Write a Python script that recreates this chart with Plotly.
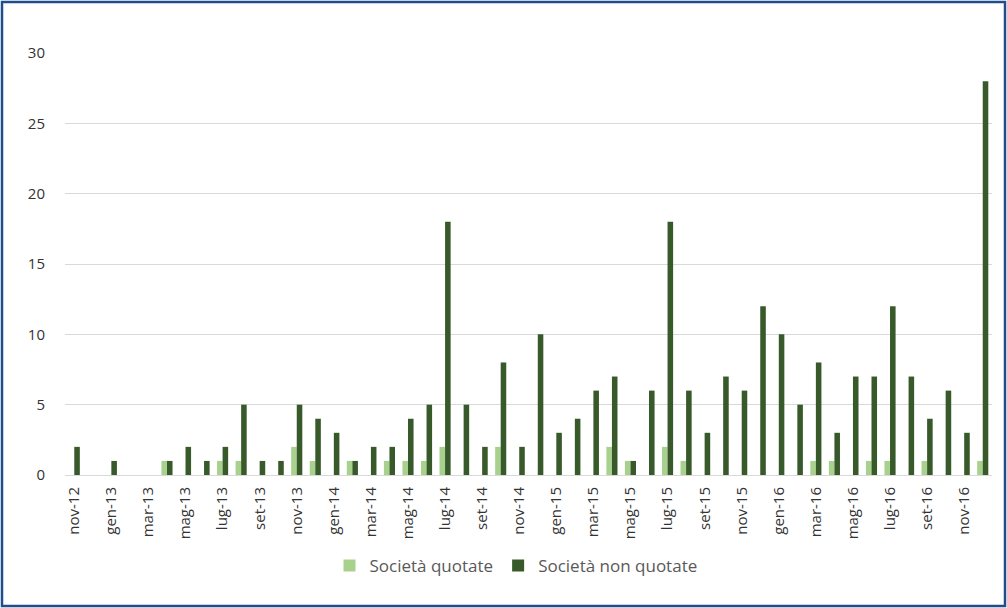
import plotly.graph_objects as go

# Mesi (nov-12 .. dic-16)
mesi = [
    "nov-12", "dic-12",
    "gen-13", "feb-13", "mar-13", "apr-13", "mag-13", "giu-13",
    "lug-13", "ago-13", "set-13", "ott-13", "nov-13", "dic-13",
    "gen-14", "feb-14", "mar-14", "apr-14", "mag-14", "giu-14",
    "lug-14", "ago-14", "set-14", "ott-14", "nov-14", "dic-14",
    "gen-15", "feb-15", "mar-15", "apr-15", "mag-15", "giu-15",
    "lug-15", "ago-15", "set-15", "ott-15", "nov-15", "dic-15",
    "gen-16", "feb-16", "mar-16", "apr-16", "mag-16", "giu-16",
    "lug-16", "ago-16", "set-16", "ott-16", "nov-16", "dic-16",
]

quotate = [
    0, 0,
    0, 0, 0, 1, 0, 0,
    1, 1, 0, 0, 2, 1,
    0, 1, 0, 1, 1, 1,
    2, 0, 0, 2, 0, 0,
    0, 0, 0, 2, 1, 0,
    2, 1, 0, 0, 0, 0,
    0, 0, 1, 1, 0, 1,
    1, 0, 1, 0, 0, 1,
]

non_quotate = [
    2, 0,
    1, 0, 0, 1, 2, 1,
    2, 5, 1, 1, 5, 4,
    3, 1, 2, 2, 4, 5,
    18, 5, 2, 8, 2, 10,
    3, 4, 6, 7, 1, 6,
    18, 6, 3, 7, 6, 12,
    10, 5, 8, 3, 7, 7,
    12, 7, 4, 6, 3, 28,
]

etichette_x = mesi[::2]
valori_y = [0, 5, 10, 15, 20, 25, 30]

W, H = 1007, 608
L, R, T, B = 65, 15, 53, 133
pw, ph = W - L - R, H - T - B


def px_x(x):
    return (x - L) / pw


def px_y(y):
    return (T + ph - y) / ph


font_family = "Open Sans, Lato, Liberation Sans, sans-serif"

fig = go.Figure()
fig.add_trace(go.Bar(
    x=mesi, y=quotate, name="Società quotate",
    marker=dict(color="#A9D18E", line=dict(width=0)),
))
fig.add_trace(go.Bar(
    x=mesi, y=non_quotate, name="Società non quotate",
    marker=dict(color="#385A2A", line=dict(width=0)),
))

# cornice blu attorno al grafico
fig.add_shape(
    type="rect", xref="paper", yref="paper",
    x0=px_x(2), x1=px_x(W - 2),
    y0=px_y(H - 2), y1=px_y(2),
    line=dict(color="#1F4E8C", width=2.5), fillcolor="rgba(0,0,0,0)",
    layer="above",
)

fig.update_layout(
    width=W, height=H,
    margin=dict(l=L, r=R, t=T, b=B),
    paper_bgcolor="white", plot_bgcolor="white",
    barmode="group", bargap=0.4, bargroupgap=0,
    font=dict(family=font_family, color="#333333", size=15),
    showlegend=True,
    legend=dict(
        orientation="h", x=px_x(516), xanchor="center",
        y=px_y(566), yanchor="middle",
        font=dict(size=17, color="#595959"),
        traceorder="normal",
    ),
    xaxis=dict(
        type="category", categoryorder="array", categoryarray=mesi,
        tickmode="array", tickvals=etichette_x, ticktext=etichette_x,
        tickangle=-90, showgrid=False, zeroline=False, showline=False,
        ticks="outside", ticklen=5, tickcolor="rgba(0,0,0,0)",
        tickfont=dict(size=15, color="#333333"),
    ),
    yaxis=dict(
        range=[0, 30], tickmode="array", tickvals=valori_y,
        showgrid=True, gridcolor="#D9D9D9", gridwidth=1,
        zeroline=True, zerolinecolor="#D9D9D9", zerolinewidth=1,
        showline=False, ticks="outside", ticklen=16,
        tickcolor="rgba(0,0,0,0)",
        tickfont=dict(size=15, color="#333333"),
    ),
)

fig.write_html("out.html")
